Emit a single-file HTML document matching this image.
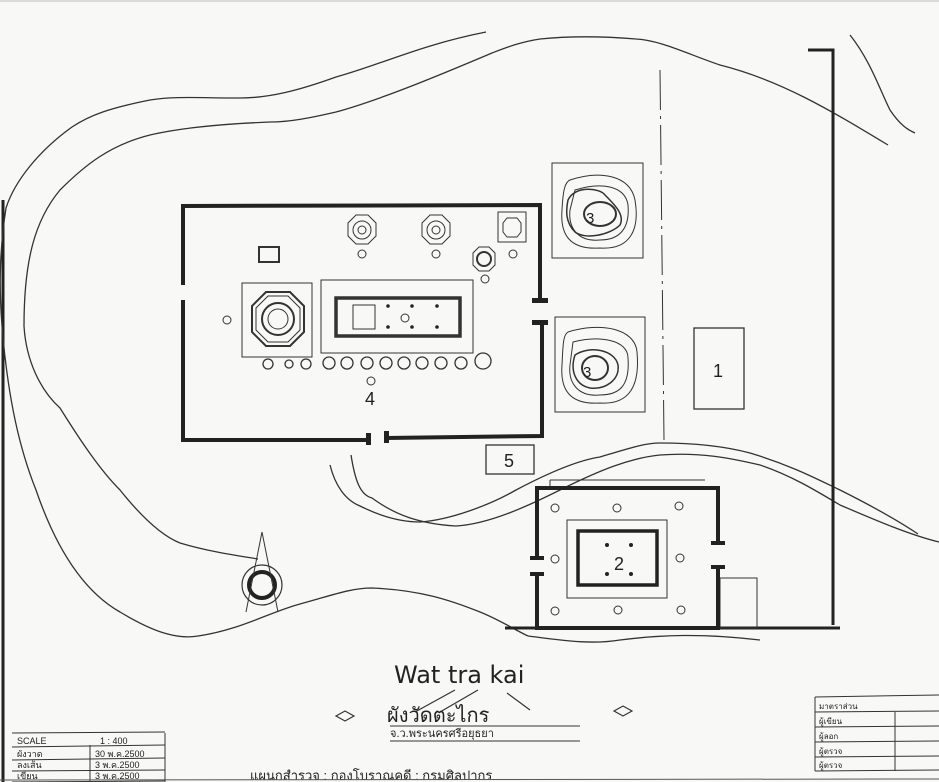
<!DOCTYPE html>
<html><head><meta charset="utf-8"><style>
html,body{margin:0;padding:0;background:#f8f8f6;}
svg{display:block}
text{font-family:"Liberation Sans","Noto Sans CJK SC",sans-serif;fill:#222}
</style></head><body>
<svg width="939" height="782" viewBox="0 0 939 782" xmlns="http://www.w3.org/2000/svg">
<rect width="939" height="782" fill="#f8f8f6"/>
<line x1="0" y1="1" x2="939" y2="1" stroke="#bbb" stroke-width="1"/>
<line x1="3" y1="200" x2="3" y2="782" stroke="#222" stroke-width="3"/>
<g fill="none" stroke="#333" stroke-width="1.3">
<!-- terrain curves -->
<path d="M486,32 C420,45 380,65 336,77 C300,90 270,98 240,98 C200,98 175,96 150,100 C110,108 90,115 72,127 C40,150 15,180 6,208 C-2,260 0,300 2,326 C8,400 20,450 36,490 C60,560 90,595 120,612 C150,630 175,640 198,636 C240,630 270,612 300,604 C330,596 350,588 372,588 C420,590 450,600 480,612 C500,620 515,630 528,636"/>
<path d="M888,145 C830,110 780,80 720,65 C690,55 660,40 636,39 C600,36 570,36 540,39 C520,42 505,48 492,53 C440,75 380,100 336,112 C310,118 290,122 270,122 C220,124 180,128 150,135 C110,145 85,165 60,190 C35,220 24,260 24,326 C26,360 40,390 60,408 C80,440 100,470 120,490 C140,515 160,535 180,543 C210,552 240,556 258,559"/>
<path d="M850,35 C870,60 880,90 890,110 C900,125 908,130 915,133"/>
<path d="M528,636 C560,640 590,645 620,640 C660,635 700,633 760,640"/>
<path d="M330,465 C335,485 345,500 360,506 C380,516 400,522 420,522 C450,520 490,505 516,490 C550,472 580,460 600,457 C630,448 645,443 660,443 C690,443 720,445 750,453 C790,465 815,478 840,490 C870,505 900,522 918,534"/>
<path d="M351,455 C355,480 360,495 372,498 C395,515 420,524 456,526 C490,524 530,505 560,490 C600,470 630,458 660,455 C700,452 730,458 760,465 C790,475 815,490 840,505 C875,520 910,535 939,542"/>
<line x1="660" y1="70" x2="664" y2="440" stroke-dasharray="40,6,3,6" stroke-width="1"/>
</g>
<!-- right heavy boundary -->
<g stroke="#222" stroke-width="3" fill="none">
<polyline points="808,50 833,50 833,625"/>
<line x1="505" y1="628" x2="840" y2="628"/>
</g>
<!-- main enclosure walls -->
<g stroke="#222" stroke-width="4" fill="none">
<polyline points="183,285 183,206 540,205 540,300"/>
<polyline points="183,300 183,440 370,440"/>
<polyline points="385,438 542,436 542,322"/>
</g>
<g stroke="#333" stroke-width="1" fill="none">
<!-- stupa 1 -->
<rect x="242" y="283" width="70" height="74"/>
<polygon points="266,292 290,292 304,306 304,332 290,346 266,346 252,332 252,306" stroke-width="2"/>
<polygon points="268,296 288,296 300,308 300,330 288,342 268,342 256,330 256,308"/>
<circle cx="278" cy="319" r="16" stroke-width="2"/>
<circle cx="278" cy="319" r="10"/>
<!-- vihara -->
<rect x="321" y="280" width="152" height="73"/>
<rect x="336" y="298" width="124" height="38" stroke-width="3.5"/>
<rect x="353" y="305" width="22" height="24"/>
<!-- small stupas -->
<polygon points="356,215 368,215 376,223 376,236 368,244 356,244 348,236 348,223"/>
<circle cx="362" cy="230" r="9"/><circle cx="362" cy="230" r="4"/>
<polygon points="430,215 442,215 450,223 450,236 442,244 430,244 422,236 422,223"/>
<circle cx="436" cy="230" r="9"/><circle cx="436" cy="230" r="4"/>
<rect x="498" y="212" width="28" height="30"/>
<polygon points="507,218 517,218 521,223 521,232 517,237 507,237 503,232 503,223"/>
<polygon points="479,247 489,247 495,253 495,265 489,271 479,271 473,265 473,253"/>
<circle cx="484" cy="259" r="7" stroke-width="2"/>
<rect x="259" y="247" width="20" height="15" stroke-width="2"/>
<!-- mounds -->
<rect x="552" y="163" width="91" height="95"/>
<path d="M570,180 C600,170 630,175 635,200 C640,230 630,250 600,248 C570,250 560,235 562,210 C563,190 565,182 570,180Z"/>
<path d="M575,190 C600,182 625,185 628,205 C630,228 620,240 600,240 C578,242 568,228 570,210Z"/>
<path d="M568,200 C575,185 600,188 605,195 C615,205 625,215 620,225 C610,235 585,240 575,232 C565,222 566,210 568,200Z" stroke-width="1.5"/>
<ellipse cx="600" cy="214" rx="16" ry="12" stroke-width="2"/>
<rect x="555" y="317" width="90" height="95"/>
<path d="M568,332 C600,322 635,328 637,352 C640,385 630,405 600,403 C570,405 560,390 562,365 C563,345 563,335 568,332Z"/>
<path d="M573,342 C600,335 628,340 628,358 C630,385 620,395 600,395 C578,397 568,383 570,365Z"/>
<path d="M575,355 C590,345 615,350 618,365 C620,380 605,390 590,388 C575,385 570,370 575,355Z" stroke-width="1.5"/>
<ellipse cx="595" cy="368" rx="13" ry="12" stroke-width="2"/>
<!-- boxes -->
<rect x="694" y="328" width="50" height="81" stroke-width="1.3"/>
<rect x="486" y="445" width="48" height="29" stroke-width="1.3"/>
<!-- lower enclosure -->
<rect x="567" y="520" width="100" height="78"/>
<line x1="550" y1="480" x2="705" y2="480"/>
<line x1="550" y1="480" x2="550" y2="488"/>
<rect x="720" y="578" width="37" height="50"/>
<!-- circle stupa -->
<circle cx="262" cy="585" r="20" stroke-width="1.2"/>
<circle cx="262" cy="585" r="13" stroke-width="4" stroke="#222"/>
<line x1="262" y1="532" x2="246" y2="612"/>
<line x1="262" y1="532" x2="278" y2="612"/>
</g>
<g fill="none" stroke="#333" stroke-width="1.3">
<circle cx="268" cy="364" r="5"/><circle cx="289" cy="364" r="4"/><circle cx="306" cy="364" r="5"/>
<circle cx="329" cy="363" r="6"/><circle cx="347" cy="363" r="6"/><circle cx="367" cy="363" r="6"/>
<circle cx="386" cy="363" r="6"/><circle cx="404" cy="363" r="6"/><circle cx="422" cy="363" r="6"/>
<circle cx="441" cy="363" r="6"/><circle cx="461" cy="363" r="6"/><circle cx="483" cy="361" r="8"/>
</g>
<g stroke="#222" stroke-width="4" fill="none">
<polyline points="537,560 537,488 718,488 718,545"/>
<polyline points="537,572 537,628 718,628 718,565"/>
<rect x="578" y="531" width="79" height="54" stroke-width="3.5"/>
</g>
<g fill="#222">
<rect x="532" y="298" width="16" height="5"/><rect x="532" y="320" width="16" height="5"/>
<rect x="366" y="433" width="5" height="12"/><rect x="384" y="431" width="5" height="12"/>
<rect x="530" y="556" width="14" height="4"/><rect x="530" y="572" width="14" height="4"/>
<rect x="711" y="541" width="14" height="4"/><rect x="711" y="565" width="14" height="4"/>
<circle cx="388" cy="306" r="1.8"/><circle cx="412" cy="306" r="1.8"/><circle cx="437" cy="306" r="1.8"/>
<circle cx="388" cy="327" r="1.8"/><circle cx="412" cy="327" r="1.8"/><circle cx="437" cy="327" r="1.8"/>
<circle cx="607" cy="545" r="2"/><circle cx="631" cy="545" r="2"/><circle cx="607" cy="574" r="2"/><circle cx="631" cy="574" r="2"/>
</g>
<g fill="none" stroke="#333" stroke-width="1">
<circle cx="555" cy="508" r="4"/><circle cx="617" cy="508" r="4"/><circle cx="679" cy="506" r="4"/>
<circle cx="555" cy="559" r="4"/><circle cx="680" cy="558" r="4"/>
<circle cx="555" cy="611" r="4"/><circle cx="618" cy="610" r="4"/><circle cx="681" cy="610" r="4"/>
<circle cx="227" cy="320" r="4"/><circle cx="405" cy="318" r="4"/><circle cx="371" cy="381" r="4"/>
<circle cx="362" cy="254" r="4"/><circle cx="436" cy="254" r="4"/><circle cx="485" cy="279" r="4"/><circle cx="513" cy="254" r="4"/>
</g>
<g font-size="18">
<text x="713" y="377">1</text>
<text x="614" y="570">2</text>
<text x="365" y="405">4</text>
<text x="504" y="467">5</text>
<text x="586" y="223" font-size="15">3</text>
<text x="583" y="377" font-size="15">3</text>
</g>
<text x="394" y="683" font-size="24" style="font-family:'DejaVu Sans',sans-serif" fill="#333">Wat tra kai</text>
<g fill="none" stroke="#333" stroke-width="1.2">
<line x1="455" y1="690" x2="415" y2="712"/><line x1="478" y1="690" x2="440" y2="712"/><line x1="507" y1="693" x2="530" y2="710"/>
<path d="M336,716 L345,711 L354,716 L345,721Z"/><path d="M614,711 L623,706 L632,711 L623,716Z"/>
</g>
<text x="387" y="722" font-size="20" fill="#333">ผังวัดตะไกร</text>
<line x1="390" y1="726" x2="580" y2="726" stroke="#333"/>
<text x="390" y="737" font-size="11" fill="#333">จ.ว.พระนครศรีอยุธยา</text>
<line x1="390" y1="741" x2="580" y2="741" stroke="#333"/>
<text x="250" y="780" font-size="13" fill="#444">แผนกสำรวจ  :  กองโบราณคดี  :  กรมศิลปากร</text>
<!-- left table -->
<g stroke="#333" fill="none" stroke-width="1">
<polyline points="12,747 165,745"/><line x1="12" y1="760" x2="165" y2="758"/><line x1="12" y1="771" x2="165" y2="770"/><line x1="12" y1="782" x2="165" y2="781"/>
<line x1="90" y1="745" x2="90" y2="782"/><line x1="165" y1="733" x2="165" y2="782"/><line x1="12" y1="733" x2="165" y2="732"/>
</g>
<g font-size="9" fill="#333">
<text x="17" y="744">SCALE</text><text x="100" y="744">1 : 400</text>
<text x="17" y="757">ผังวาด</text><text x="95" y="757">30 พ.ค.2500</text>
<text x="17" y="768">ลงเส้น</text><text x="95" y="768">3 พ.ค.2500</text>
<text x="17" y="779">เขียน</text><text x="95" y="779">3 พ.ค.2500</text>
</g>
<!-- right table -->
<g stroke="#333" fill="none" stroke-width="1">
<line x1="815" y1="697" x2="939" y2="695"/><line x1="815" y1="712" x2="939" y2="711"/><line x1="815" y1="727" x2="939" y2="726"/>
<line x1="815" y1="742" x2="939" y2="741"/><line x1="815" y1="757" x2="939" y2="756"/><line x1="815" y1="771" x2="939" y2="770"/>
<line x1="815" y1="697" x2="815" y2="771"/><line x1="895" y1="712" x2="895" y2="771"/>
</g>
<g font-size="8" fill="#333">
<text x="819" y="709">มาตราส่วน</text><text x="819" y="724">ผู้เขียน</text><text x="819" y="739">ผู้ลอก</text><text x="819" y="754">ผู้ตรวจ</text><text x="819" y="768">ผู้ตรวจ</text>
</g>
<line x1="0" y1="780" x2="939" y2="779" stroke="#555" stroke-width="1"/>
</svg>
</body></html>
